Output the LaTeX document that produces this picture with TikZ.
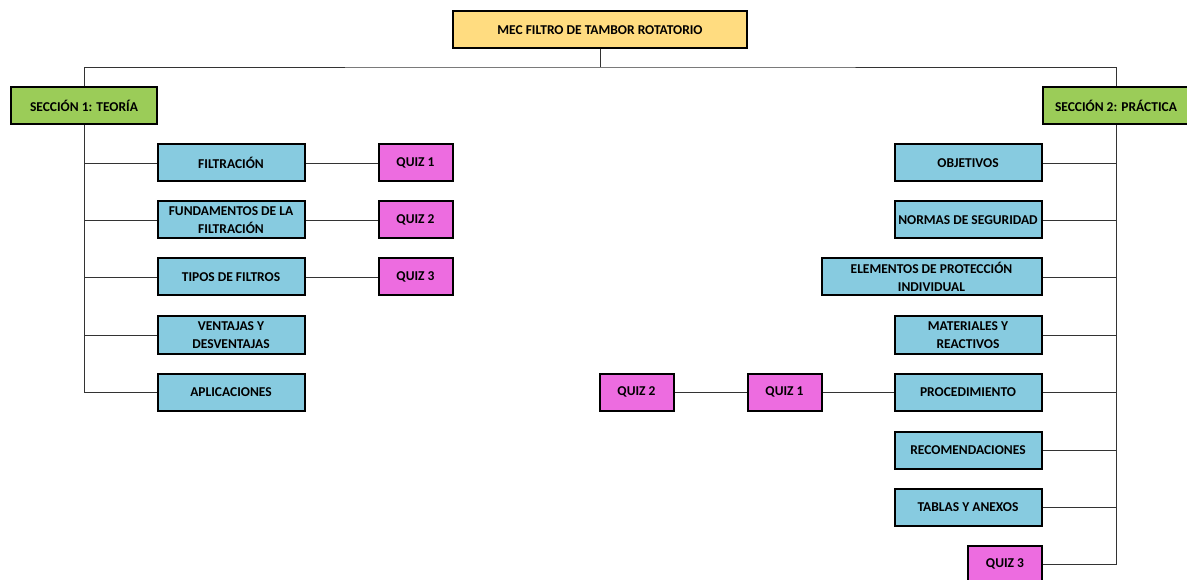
\documentclass[tikz,border=0pt]{standalone}
\usepackage{fontspec}
\setmainfont{Carlito}
\usetikzlibrary{positioning}

\definecolor{titleyellow}{RGB}{255,220,128}
\definecolor{secgreen}{RGB}{155,204,88}
\definecolor{topicblue}{RGB}{135,203,224}
\definecolor{quizpink}{RGB}{237,108,224}

\begin{document}
\begin{tikzpicture}[x=1pt,y=-1pt,
	box/.style={draw=black, line width=2pt, minimum height=37,
		inner sep=1pt, align=center,
		font=\bfseries\fontsize{13.5}{18}\selectfont},
	titlebox/.style={box, fill=titleyellow, minimum width=294},
	secbox/.style={box, fill=secgreen, minimum width=146},
	topicbox/.style={box, fill=topicblue, minimum width=147},
	quizbox/.style={box, fill=quizpink, minimum width=74},
	link/.style={draw=black!80, line width=0.8pt}]

	\useasboundingbox (0,0) rectangle (1187,580);

	\node[titlebox] (title) at (600,30) {MEC FILTRO DE TAMBOR ROTATORIO};
	\coordinate (bus) at (600,67);

	\node[secbox] (teoria) at (84,106) {SECCIÓN 1: TEORÍA};
	\node[secbox] (practica) at (1116,106) {SECCIÓN 2: PRÁCTICA};

	% seccion 1
	\node[topicbox] (filtracion) at (231,163) {FILTRACIÓN};
	\node[topicbox] (fundamentos) at (231,220) {FUNDAMENTOS DE LA\\FILTRACIÓN};
	\node[topicbox] (tipos) at (231,277) {TIPOS DE FILTROS};
	\node[topicbox] (ventajas) at (231,335) {VENTAJAS Y\\DESVENTAJAS};
	\node[topicbox] (aplicaciones) at (231,392) {APLICACIONES};

	\node[quizbox] (quiz1-t) at (415.5,163) {QUIZ 1};
	\node[quizbox] (quiz2-t) at (415.5,220) {QUIZ 2};
	\node[quizbox] (quiz3-t) at (415.5,277) {QUIZ 3};

	% seccion 2
	\node[topicbox] (objetivos) at (968,163) {OBJETIVOS};
	\node[topicbox] (normas) at (968,220) {NORMAS DE SEGURIDAD};
	\node[topicbox, minimum width=220] (elementos) at (931.5,277) {ELEMENTOS DE PROTECCIÓN\\INDIVIDUAL};
	\node[topicbox] (materiales) at (968,335) {MATERIALES Y\\REACTIVOS};
	\node[topicbox] (procedimiento) at (968,392) {PROCEDIMIENTO};
	\node[topicbox] (recomendaciones) at (968,450) {RECOMENDACIONES};
	\node[topicbox] (tablas) at (968,507) {TABLAS Y ANEXOS};

	\node[quizbox] (quiz1-p) at (784.5,392) {QUIZ 1};
	\node[quizbox] (quiz2-p) at (636.5,392) {QUIZ 2};
	\node[quizbox] (quiz3-p) at (1005,564) {QUIZ 3};

	\draw[link] (title) -- (bus);
	\draw[link] (teoria.north) |- (bus) -| (practica.north);

	\foreach \t in {filtracion,fundamentos,tipos,ventajas,aplicaciones}
		\draw[link] (teoria.south) |- (\t.west);
	\draw[link] (filtracion) -- (quiz1-t)
		(fundamentos) -- (quiz2-t)
		(tipos) -- (quiz3-t);

	\foreach \t in {objetivos,normas,elementos,materiales,procedimiento,recomendaciones,tablas,quiz3-p}
		\draw[link] (practica.south) |- (\t.east);
	\draw[link] (procedimiento) -- (quiz1-p)
		(quiz1-p) -- (quiz2-p);

\end{tikzpicture}
\end{document}
